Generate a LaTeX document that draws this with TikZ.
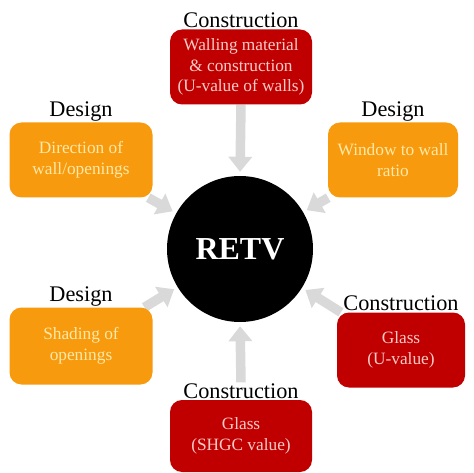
\documentclass[tikz,border=0pt]{standalone}
\usepackage{fontspec}
\setmainfont{Liberation Serif}
\usetikzlibrary{positioning, arrows.meta, backgrounds}
\definecolor{boxRed}{HTML}{C00000}
\definecolor{boxOrange}{HTML}{F79A0E}
\definecolor{textPink}{HTML}{F7CCC8}
\definecolor{textCream}{HTML}{FFE9A8}
\definecolor{arrowGrey}{HTML}{D9D9D9}
\tikzset{
  factor/.style={rounded corners=12pt, align=center, inner sep=4pt,
                 font=\fontsize{17.3}{20.5}\selectfont},
  redbox/.style={factor, fill=boxRed, text=textPink},
  orangebox/.style={factor, fill=boxOrange, text=textCream},
  kind/.style={font=\fontsize{22.3}{24}\selectfont, inner sep=1pt},
  hub/.style={circle, fill=black, text=white, minimum size=146pt,
              font=\fontsize{32}{36}\selectfont\bfseries},
  push/.style={draw=arrowGrey, line width=9.5pt, shorten >=4pt,
               -{Triangle[width=23pt, length=15pt]}}
}
\begin{document}
\begin{tikzpicture}[x=1pt, y=-1pt]
  \useasboundingbox (0,0) rectangle (474,473);
  % centre
  \node[hub] (retv) at (240,249) {RETV};
  % factors
  \node[redbox, minimum width=142pt, minimum height=75pt] (walls) at (241,67)
    {Walling material\\ \& construction\\ (U-value of walls)};
  \node[orangebox, minimum width=143pt, minimum height=75pt] (orient) at (81,160)
    {Direction of\\ wall/openings};
  \node[orangebox, minimum width=130pt, minimum height=75pt] (wwr) at (393,160)
    {Window to wall\\ ratio};
  \node[orangebox, minimum width=143pt, minimum height=77pt] (shade) at (81,346)
    {Shading of\\ openings};
  \node[redbox, minimum width=128pt, minimum height=75pt] (glassU) at (401,350)
    {Glass\\ (U-value)};
  \node[redbox, minimum width=142pt, minimum height=72pt] (glassS) at (241,436)
    {Glass\\ (SHGC value)};
  % category labels
  \node[kind, above=0pt of walls] (labWalls) {Construction};
  \node[kind, above=0pt of orient] (labOrient) {Design};
  \node[kind, above=0pt of wwr] (labWwr) {Design};
  \node[kind, above=0pt of shade] (labShade) {Design};
  \node[kind, above=0pt of glassU] (labGlassU) {Construction};
  \node[kind, above=0pt of glassS] (labGlassS) {Construction};
  % arrows
  \begin{scope}[on background layer]
    \draw[push] (walls.south) -- (retv.north);
    \draw[push] (orient) -- (retv);
    \draw[push] (wwr) -- (retv);
    \draw[push] (shade) -- (retv);
    \draw[push] (glassU) -- (retv);
    \draw[push] (labGlassS.north) -- (retv.south);
  \end{scope}
\end{tikzpicture}
\end{document}
